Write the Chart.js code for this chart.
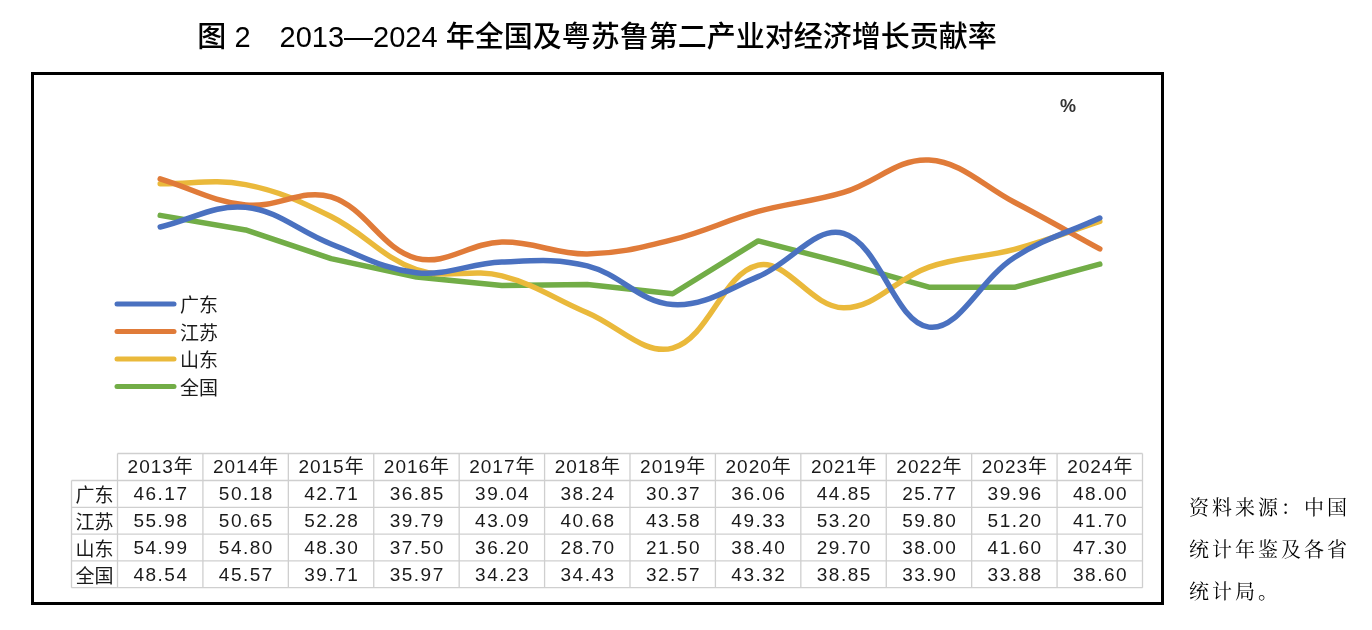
<!DOCTYPE html>
<html>
<head>
<meta charset="utf-8">
<script src="https://cdn.jsdelivr.net/npm/chart.js@4/dist/chart.umd.min.js"></script>
<style>
html,body{margin:0;padding:0;background:#fff;}
#wrap{position:relative;width:1372px;height:630px;}
</style>
</head>
<body>
<div id="wrap"><canvas id="c" width="1372" height="630"></canvas></div>
<script>
const years = ['2013年','2014年','2015年','2016年','2017年','2018年','2019年','2020年','2021年','2022年','2023年','2024年'];
const seriesNames = ['广东','江苏','山东','全国'];
const guangdong = [46.17,50.18,42.71,36.85,39.04,38.24,30.37,36.06,44.85,25.77,39.96,48.00];
const jiangsu   = [55.98,50.65,52.28,39.79,43.09,40.68,43.58,49.33,53.20,59.80,51.20,41.70];
const shandong  = [54.99,54.80,48.30,37.50,36.20,28.70,21.50,38.40,29.70,38.00,41.60,47.30];
const quanguo   = [48.54,45.57,39.71,35.97,34.23,34.43,32.57,43.32,38.85,33.90,33.88,38.60];
const colors = ['#4A71C0','#E07B39','#EAB93B','#72AD47'];
const titleText = '图 2　2013—2024 年全国及粤苏鲁第二产业对经济增长贡献率';
const unitText = '%';
const sourceLines = ['资料来源：中国','统计年鉴及各省','统计局。'];

const CJK = "'Noto Sans CJK SC'";
const NUM = "'Liberation Sans', 'Noto Sans CJK SC'";

const decor = {
  id: 'decor',
  afterDraw(chart) {
    const ctx = chart.ctx;
    const xs = chart.scales.x;
    const area = chart.chartArea;
    ctx.save();
    // frame
    ctx.strokeStyle = '#000';
    ctx.lineWidth = 3;
    ctx.strokeRect(32.5, 73.5, 1130, 530);
    // title
    ctx.fillStyle = '#000';
    ctx.font = "500 29px " + NUM;
    ctx.textAlign = 'center';
    ctx.textBaseline = 'middle';
    ctx.fillText(titleText, 597, 39);
    // unit
    ctx.fillStyle = '#333';
    ctx.font = "bold 18px " + NUM;
    ctx.fillText(unitText, 1068, 107);
    // legend
    chart.data.datasets.forEach((ds, i) => {
      const y = 304 + i * 27.5;
      ctx.strokeStyle = ds.borderColor;
      ctx.lineWidth = 5;
      ctx.lineCap = 'round';
      ctx.beginPath();
      ctx.moveTo(117, y); ctx.lineTo(174, y); ctx.stroke();
      ctx.fillStyle = '#1a1a1a';
      ctx.font = "19px " + CJK;
      ctx.textAlign = 'left';
      ctx.fillText(ds.label, 180, y + 1);
    });
    // table
    const n = years.length;
    const colW = (area.right - area.left) / n;
    const left = area.left, right = area.right;
    const labL = 71.5;
    const top = 453.5, headB = 480.5;
    const rowH = 26.8;
    const rowsB = headB + rowH * 4;
    ctx.strokeStyle = '#CFCFCF';
    ctx.lineWidth = 1.3;
    ctx.lineCap = 'butt';
    ctx.beginPath();
    ctx.moveTo(left, top); ctx.lineTo(right, top);
    for (let r = 0; r <= 4; r++) {
      const y = headB + rowH * r;
      ctx.moveTo(labL, y); ctx.lineTo(right, y);
    }
    ctx.moveTo(labL, headB); ctx.lineTo(labL, rowsB);
    for (let i = 0; i <= n; i++) {
      const x = left + colW * i;
      ctx.moveTo(x, top); ctx.lineTo(x, rowsB);
    }
    ctx.stroke();
    ctx.fillStyle = '#1a1a1a';
    ctx.textAlign = 'center';
    ctx.textBaseline = 'middle';
    ctx.font = "19px " + NUM;
    ctx.letterSpacing = '1px';
    years.forEach((yr, i) => {
      ctx.fillText(yr, xs.getPixelForValue(i) + 0.5, (top + headB) / 2 + 1);
    });
    chart.data.datasets.forEach((ds, r) => {
      const yc = headB + rowH * r + rowH / 2 + 1;
      ctx.font = "19px " + CJK;
      ctx.letterSpacing = '0px';
      ctx.fillText(ds.label, (labL + left) / 2, yc);
      ctx.font = "19px " + NUM;
      ctx.letterSpacing = '1.5px';
      ds.data.forEach((v, i) => {
        ctx.fillText(v.toFixed(2), xs.getPixelForValue(i) + 0.75, yc);
      });
    });
    ctx.letterSpacing = '0px';
    // source note
    ctx.fillStyle = '#000';
    ctx.textAlign = 'left';
    ctx.font = "20px 'Noto Serif CJK SC', " + CJK;
    ctx.letterSpacing = '3px';
    sourceLines.forEach((t, i) => {
      ctx.fillText(t, 1189, 507 + i * 42);
    });
    ctx.restore();
  }
};

const mk = (label, data, color, tension) => ({
  label, data, borderColor: color, backgroundColor: color,
  borderWidth: 5.5, pointRadius: 0, pointHoverRadius: 0,
  tension, cubicInterpolationMode: 'default',
  borderCapStyle: 'round', borderJoinStyle: 'round', fill: false
});

new Chart(document.getElementById('c'), {
  type: 'line',
  data: {
    labels: years,
    datasets: [
      mk(seriesNames[0], guangdong, colors[0], 0.38),
      mk(seriesNames[1], jiangsu, colors[1], 0.38),
      mk(seriesNames[2], shandong, colors[2], 0.38),
      mk(seriesNames[3], quanguo, colors[3], 0)
    ]
  },
  options: {
    responsive: false,
    animation: false,
    events: [],
    layout: { padding: { left: 117.5, right: 229.5, top: 110, bottom: 176.4 } },
    plugins: { legend: { display: false }, title: { display: false }, tooltip: { enabled: false } },
    scales: {
      x: { display: false, offset: true },
      y: { display: false, min: 0, max: 70 }
    }
  },
  plugins: [decor]
});
</script>
</body>
</html>
